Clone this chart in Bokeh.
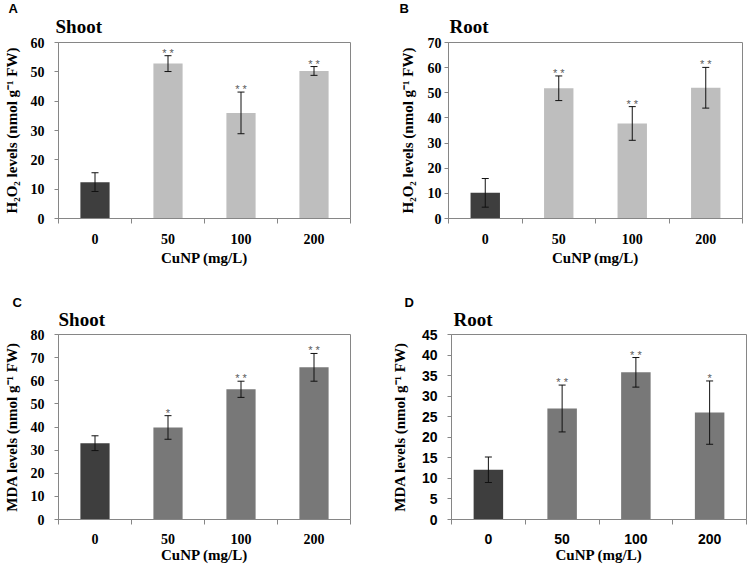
import numpy as np
from bokeh.plotting import figure
from bokeh.models import (Whisker, TeeHead, LinearAxis, FixedTicker, Title,
                          Range1d, FactorRange, ColumnDataSource)
from bokeh.layouts import column, row
from bokeh.embed import file_html
from bokeh.resources import INLINE
from bokeh.core.properties import value

# ---------------- data ----------------
categories = ["0", "50", "100", "200"]
x_title = "CuNP (mg/L)"

h2o2_shoot_mean = [12.4, 52.8, 36.0, 50.3]
h2o2_shoot_err = [3.2, 2.7, 7.1, 1.5]
h2o2_shoot_sig = ["", "* *", "* *", "* *"]

h2o2_root_mean = [10.2, 51.8, 37.8, 52.0]
h2o2_root_err = [5.7, 4.9, 6.7, 8.1]
h2o2_root_sig = ["", "* *", "* *", "* *"]

mda_shoot_mean = [33.0, 39.8, 56.3, 65.8]
mda_shoot_err = [3.2, 5.1, 3.5, 6.0]
mda_shoot_sig = ["", "*", "* *", "* *"]

mda_root_mean = [12.1, 27.0, 35.8, 26.0]
mda_root_err = [3.1, 5.7, 3.6, 7.7]
mda_root_sig = ["", "* *", "* *", "*"]

h2o2_shoot_ticks = [0, 10, 20, 30, 40, 50, 60]
h2o2_root_ticks = [0, 10, 20, 30, 40, 50, 60, 70]
mda_shoot_ticks = [0, 10, 20, 30, 40, 50, 60, 70, 80]
mda_root_ticks = [0, 5, 10, 15, 20, 25, 30, 35, 40, 45]

h2o2_label = "H\u2082O\u2082 levels (nmol g\u207b\u00b9 FW)"
mda_label = "MDA levels (nmol g\u207b\u00b9 FW)"

# ---------------- style ----------------
SERIF = "Liberation Serif"
SANS = "Liberation Sans"
AXIS_GREY = "#868686"
CONTROL = "#3e3e3e"
LIGHT = "#bebebe"
MID = "#787878"


def panel(letter, title, ylabel, means, errs, sigs, ticks, treat_color,
          width, height, borders, tick_font, ytick_standoff, ylabel_standoff,
          xtick_standoff, xlabel_standoff, letter_dx, title_dx, title_standoff):
    bl, br, bt, bb = borders
    colors = [CONTROL] + [treat_color] * (len(categories) - 1)
    upper = [m + e for m, e in zip(means, errs)]
    lower = [m - e for m, e in zip(means, errs)]
    src = ColumnDataSource(dict(x=categories, top=means, upper=upper,
                                lower=lower, color=colors, sig=sigs))

    p = figure(x_range=FactorRange(*categories), y_range=Range1d(0, ticks[-1]),
               width=width, height=height, output_backend="svg",
               toolbar_location=None, x_axis_location=None, title=None,
               min_border_left=bl, min_border_right=br,
               min_border_top=bt, min_border_bottom=bb)
    p.xgrid.visible = False
    p.ygrid.visible = False
    p.outline_line_color = AXIS_GREY
    p.outline_line_width = 1
    p.background_fill_color = "white"
    p.border_fill_color = "white"

    p.vbar(x="x", top="top", width=0.4, source=src, fill_color="color",
           line_color=None)
    w = Whisker(base="x", upper="upper", lower="lower", source=src,
                line_color="#111111", line_width=1, level="overlay",
                upper_head=TeeHead(size=7, line_color="#111111", line_width=1),
                lower_head=TeeHead(size=7, line_color="#111111", line_width=1))
    p.add_layout(w)
    p.text(x="x", y="upper", text="sig", source=src, text_align="center",
           text_baseline="bottom", y_offset=3, text_font=value(SANS),
           text_font_size="11px", text_color="#5a5a5a")

    # y axis
    ya = p.yaxis[0]
    ya.ticker = FixedTicker(ticks=ticks)
    ya.axis_line_color = AXIS_GREY
    ya.major_tick_line_color = AXIS_GREY
    ya.major_tick_in = 0
    ya.major_tick_out = 4
    ya.minor_tick_line_color = None
    ya.major_label_text_font = tick_font
    ya.major_label_text_font_style = "bold"
    ya.major_label_text_font_size = "14px"
    ya.major_label_text_color = "black"
    ya.major_label_standoff = ytick_standoff
    ya.axis_label = ylabel
    ya.axis_label_text_font = SERIF
    ya.axis_label_text_font_style = "bold"
    ya.axis_label_text_font_size = "15px"
    ya.axis_label_text_color = "black"
    ya.axis_label_standoff = ylabel_standoff

    # x axis: labels at category centres, ticks at category boundaries
    n = len(categories)
    centres = [i + 0.5 for i in range(n)]
    bounds = [float(i) for i in range(n + 1)]
    xa = LinearAxis(ticker=FixedTicker(ticks=centres, minor_ticks=bounds),
                    major_label_overrides={c: k for c, k in zip(centres, categories)})
    xa.axis_line_color = AXIS_GREY
    xa.major_tick_line_color = None
    xa.major_tick_in = 0
    xa.major_tick_out = 0
    xa.minor_tick_line_color = AXIS_GREY
    xa.minor_tick_in = 0
    xa.minor_tick_out = 5
    xa.major_label_text_font = tick_font
    xa.major_label_text_font_style = "bold"
    xa.major_label_text_font_size = "14px"
    xa.major_label_text_color = "black"
    xa.major_label_standoff = xtick_standoff
    xa.axis_label = x_title
    xa.axis_label_text_font = SERIF
    xa.axis_label_text_font_style = "bold"
    xa.axis_label_text_font_size = "15px"
    xa.axis_label_text_color = "black"
    xa.axis_label_standoff = xlabel_standoff
    p.add_layout(xa, "below")

    p.add_layout(Title(text=title, align="left", offset=title_dx,
                       standoff=title_standoff,
                       text_font=SERIF, text_font_style="bold",
                       text_font_size="19px", text_color="black"), "above")
    p.add_layout(Title(text=letter, align="left", offset=letter_dx, standoff=-15,
                       text_font=SANS, text_font_style="bold",
                       text_font_size="13px", text_color="black"), "above")
    return p


pA = panel("A", "Shoot", h2o2_label, h2o2_shoot_mean, h2o2_shoot_err,
           h2o2_shoot_sig, h2o2_shoot_ticks, LIGHT, 374, 295, (53, 24, 41, 77),
           SERIF, 10, 8, 10, 3, -50, -3, 11)
pB = panel("B", "Root", h2o2_label, h2o2_root_mean, h2o2_root_err,
           h2o2_root_sig, h2o2_root_ticks, LIGHT, 373, 295, (74, 5, 42, 76),
           SERIF, 3, 9, 10, 3, -49, 1, 11)
pC = panel("C", "Shoot", mda_label, mda_shoot_mean, mda_shoot_err,
           mda_shoot_sig, mda_shoot_ticks, MID, 374, 270, (53, 24, 39, 45),
           SERIF, 10, 8, 9, 0, -46, 0, 9)
pD = panel("D", "Root", mda_label, mda_root_mean, mda_root_err,
           mda_root_sig, mda_root_ticks, MID, 373, 270, (77, 1, 39, 45),
           SANS, 10, 11, 9, 0, -47, 2, 9)

layout = column(row(pA, pB, spacing=0), row(pC, pD, spacing=0), spacing=0)

open("out.html", "w").write(file_html(layout, INLINE))
